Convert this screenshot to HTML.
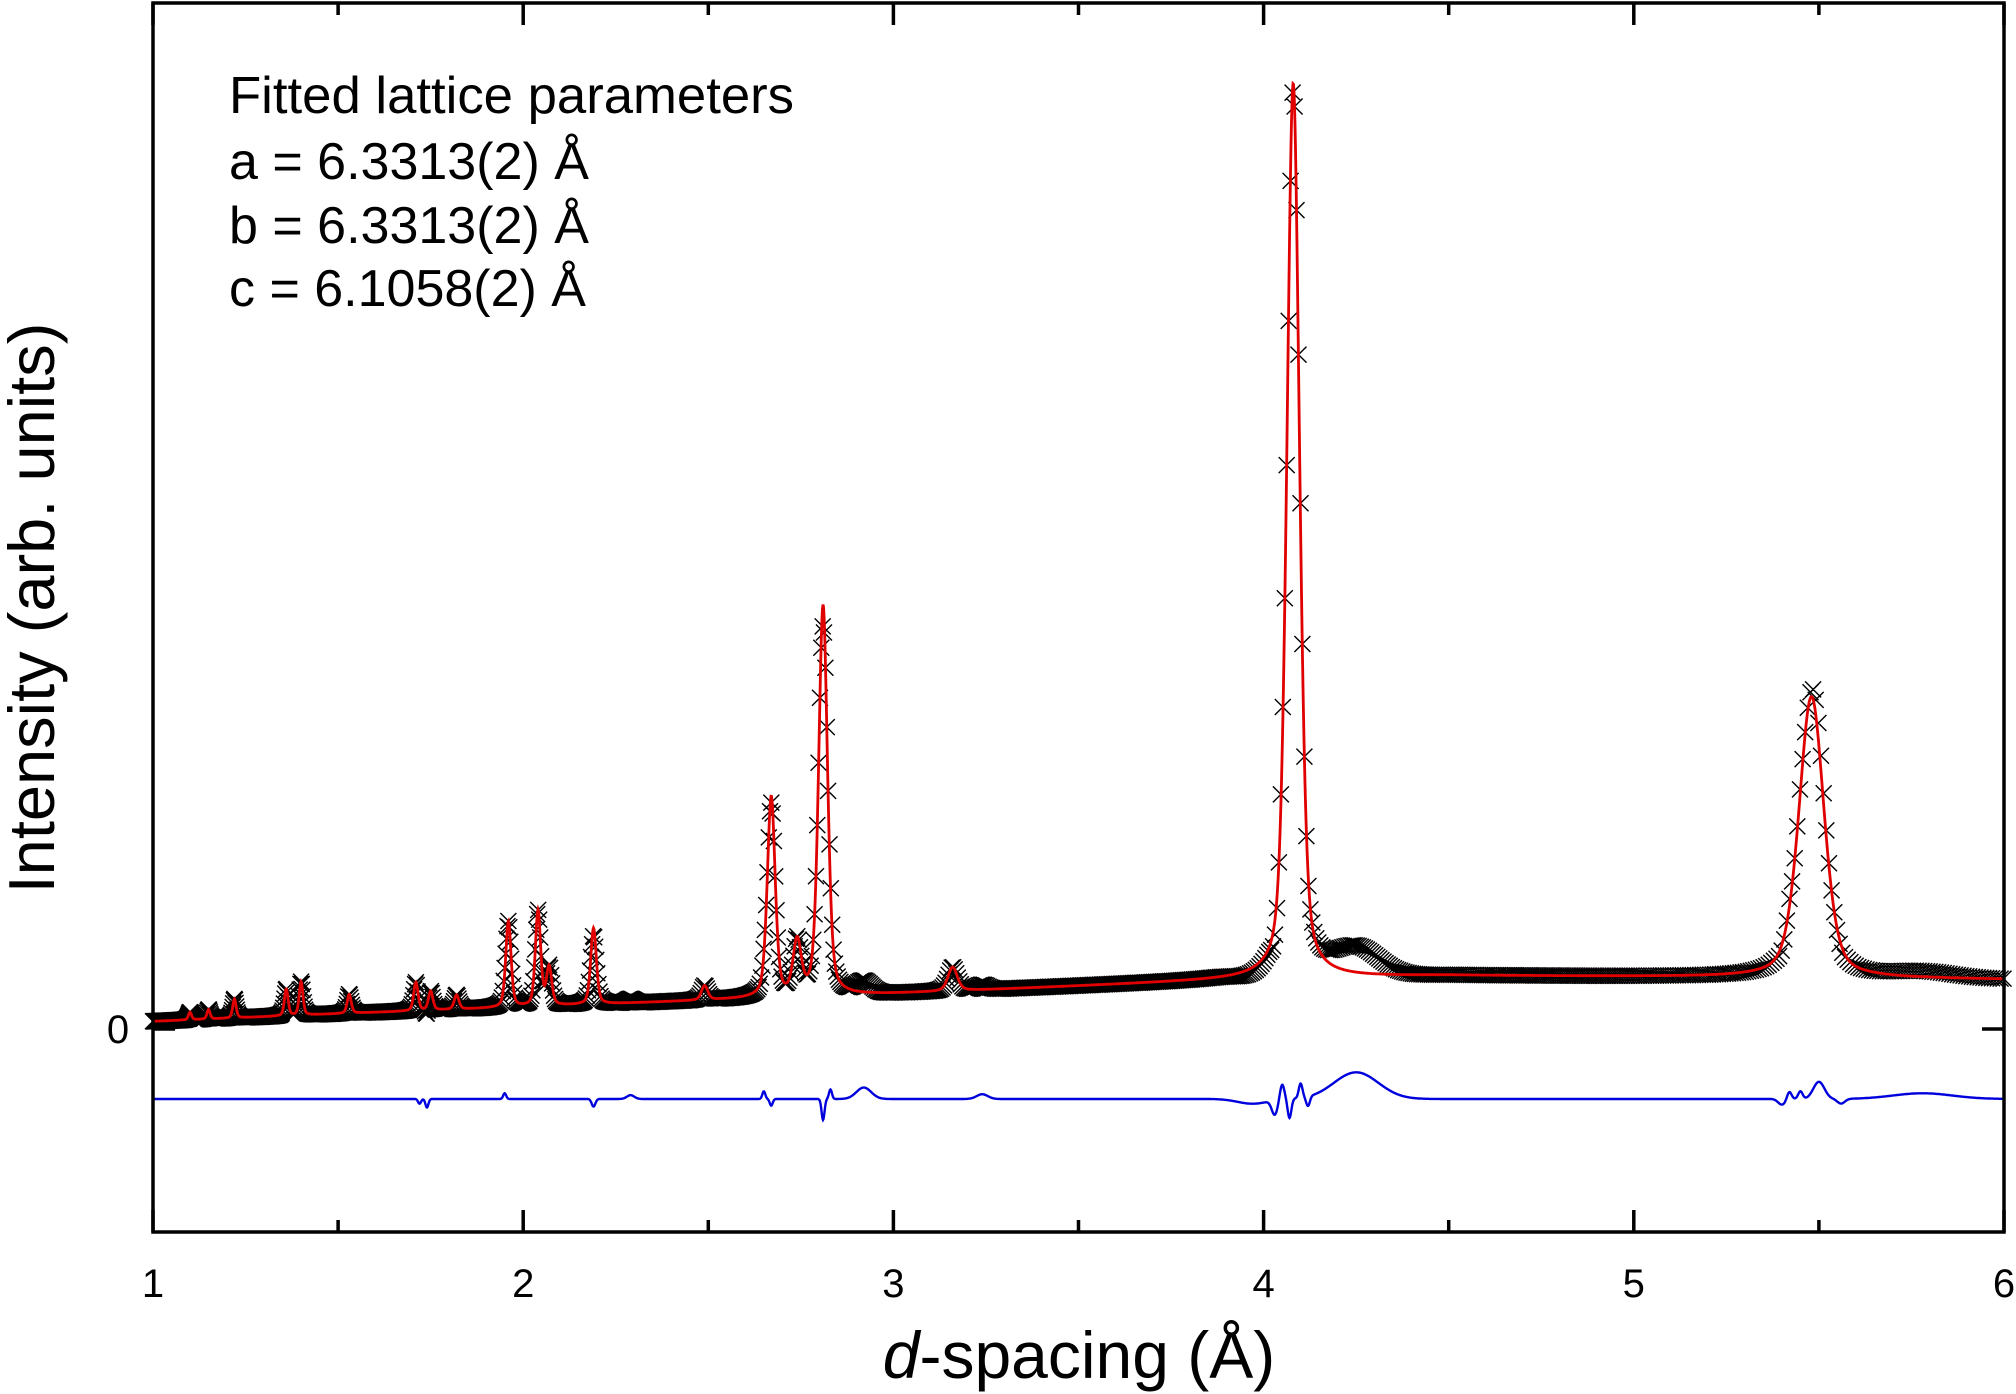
<!DOCTYPE html>
<html><head><meta charset="utf-8"><style>
html,body{margin:0;padding:0;background:#fff;}
svg{display:block;font-family:"Liberation Sans",Arial,sans-serif;}
</style></head><body>
<svg id="chart" width="2016" height="1394" viewBox="0 0 2016 1394" xmlns="http://www.w3.org/2000/svg">
<g id="plot"></g>
<g id="axes"></g>
<g font-size="52" fill="#000">
<text x="229" y="113" textLength="565" lengthAdjust="spacingAndGlyphs">Fitted lattice parameters</text>
<text x="229" y="179">a = 6.3313(2) Å</text>
<text x="229" y="243">b = 6.3313(2) Å</text>
<text x="229" y="306">c = 6.1058(2) Å</text>
</g>
<text x="1079" y="1378" font-size="66" text-anchor="middle"><tspan font-style="italic">d</tspan>-spacing (Å)</text>
<text transform="translate(54,608) rotate(-90)" font-size="65" text-anchor="middle">Intensity (arb. units)</text>
</svg>
<script>
// ---- data ----
const peakD = [1.10,1.15,1.22,1.36,1.40,1.53,1.71,1.75,1.82,1.96,2.04,2.07,2.19,2.49,2.67,2.74,2.81,3.16,4.08,5.48];
const peakH = [0.8,1.0,2.0,2.8,3.5,2.0,3.0,2.0,1.5,9.0,10.0,4.0,8.0,1.5,21.0,5.5,41.0,2.5,94.0,29.5];
const peakW = [0.010,0.010,0.011,0.012,0.012,0.013,0.014,0.014,0.015,0.017,0.017,0.017,0.018,0.020,0.025,0.026,0.028,0.030,0.040,0.080];
const bgD = [1.0,1.5,2.0,2.5,3.0,3.5,4.0,4.5,5.0,5.5,6.0];
const bgI = [0.8,1.6,2.3,3.0,3.7,4.5,5.3,5.6,5.5,5.4,5.2];
const diffD = [1.72,1.74,1.95,2.19,2.29,2.65,2.67,2.81,2.83,2.92,3.24,3.97,4.03,4.05,4.07,4.10,4.12,4.25,5.40,5.42,5.45,5.50,5.56,5.78];
const diffA = [-0.5,-0.9,0.6,-0.8,0.4,0.8,-0.7,-2.2,1.0,1.2,0.5,-0.5,-1.5,1.6,-2.0,1.5,-1.0,2.8,-0.6,0.8,0.8,1.8,-0.5,0.6];
const diffW = [0.004,0.004,0.004,0.005,0.01,0.004,0.004,0.004,0.004,0.02,0.015,0.04,0.008,0.006,0.005,0.005,0.005,0.06,0.01,0.006,0.006,0.015,0.01,0.08];
const diffOffset = -7.35;
const xTicks = [1,2,3,4,5,6];
const xMinor = [1.5,2.5,3.5,4.5,5.5];
// ---- scales ----
const L=153,R=2004,T=3,B=1232,Y0=1029,PX=9.52;
const xs=d=>L+(d-1)*(R-L)/5;
const ys=v=>Y0-v*PX;
const NS='http://www.w3.org/2000/svg';
function mk(tag,attrs,parent){const e=document.createElementNS(NS,tag);for(const k in attrs)e.setAttribute(k,attrs[k]);parent.appendChild(e);return e;}
function bg(d){for(let i=0;i<bgD.length-1;i++){if(d<=bgD[i+1]){const t=(d-bgD[i])/(bgD[i+1]-bgD[i]);return bgI[i]+t*(bgI[i+1]-bgI[i]);}}return bgI[bgI.length-1];}
function calc(d){let s=bg(d);for(let i=0;i<peakD.length;i++){const w=peakW[i]/2,u=(d-peakD[i])/w;s+=peakH[i]*(0.6*Math.exp(-0.693*u*u)+0.4/(1+u*u));}return s;}
function diff(d){let s=0;for(let i=0;i<diffD.length;i++){const u=(d-diffD[i])/diffW[i];s+=diffA[i]*Math.exp(-0.5*u*u);}return s;}
const plot=document.getElementById('plot');
const obsG=mk('g',{stroke:'#000','stroke-width':1.4,fill:'none'},plot);


let pathO='';
for(let d=1.0;d<=6.0;d*=1.0013){const x=xs(d),y=ys(calc(d)+diff(d)),h=8;pathO+=`M${(x-h).toFixed(1)} ${(y-h).toFixed(1)}L${(x+h).toFixed(1)} ${(y+h).toFixed(1)}M${(x-h).toFixed(1)} ${(y+h).toFixed(1)}L${(x+h).toFixed(1)} ${(y-h).toFixed(1)}`;}
const op=mk('path',{d:pathO},obsG);


let pc='',pd='';
for(let px=L;px<=R;px+=0.5){const d=1+(px-L)*5/(R-L);pc+=(pc?'L':'M')+px.toFixed(1)+' '+ys(calc(d)).toFixed(1);pd+=(pd?'L':'M')+px.toFixed(1)+' '+ys(diffOffset+diff(d)).toFixed(1);}
const cl=mk('path',{d:pc,stroke:'#e00000','stroke-width':2.8,fill:'none'},plot);


const dl=mk('path',{d:pd,stroke:'#0000dd','stroke-width':2.4,fill:'none'},plot);


const ax=document.getElementById('axes');
const frame=mk('rect',{x:L,y:T,width:R-L,height:B-T,fill:'none',stroke:'#000','stroke-width':3.5},ax);


xTicks.forEach(v=>{const x=xs(v);
 const t1=mk('line',{x1:x,x2:x,y1:B,y2:B-22,stroke:'#000','stroke-width':3.5},ax);
 
 
 const t2=mk('line',{x1:x,x2:x,y1:T,y2:T+22,stroke:'#000','stroke-width':3.5},ax);
 
 
 const lb=mk('text',{x:x,y:1297,'font-size':40,'text-anchor':'middle'},ax);lb.textContent=v;
 
 
});
xMinor.forEach(v=>{const x=xs(v);
 const t1=mk('line',{x1:x,x2:x,y1:B,y2:B-12,stroke:'#000','stroke-width':3.5},ax);
 
 
 const t2=mk('line',{x1:x,x2:x,y1:T,y2:T+12,stroke:'#000','stroke-width':3.5},ax);
 
 
});
const yt=mk('line',{x1:R,x2:R-22,y1:Y0,y2:Y0,stroke:'#000','stroke-width':3.5},ax);


const yl=mk('line',{x1:L,x2:L+22,y1:Y0,y2:Y0,stroke:'#000','stroke-width':3.5},ax);


const y0=mk('text',{x:118,y:1043,'font-size':40,'text-anchor':'middle'},ax);y0.textContent='0';


</script>
</body></html>
